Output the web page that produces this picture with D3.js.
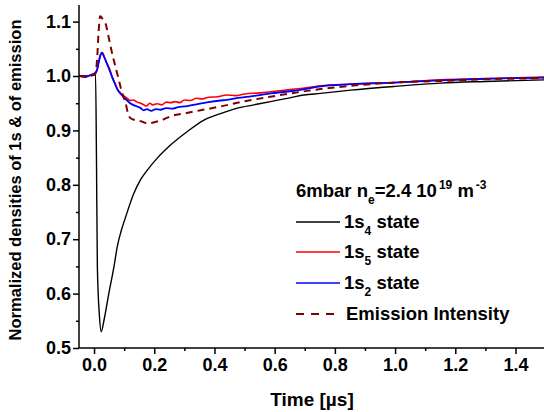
<!DOCTYPE html>
<html><head><meta charset="utf-8">
<script src="https://cdn.jsdelivr.net/npm/d3@7"></script>
<style>body{margin:0;background:#fff}svg{display:block}text{font-family:"Liberation Sans",Arial,sans-serif;font-weight:bold;fill:#000}</style>
</head><body><svg id="c" width="544" height="412"></svg>
<script>
// ---- data ----
const xTicks = [0.0, 0.2, 0.4, 0.6, 0.8, 1.0, 1.2, 1.4];
const yTicks = [0.5, 0.6, 0.7, 0.8, 0.9, 1.0, 1.1];
const t1s4 = [-0.05,-0.03,0.0,0.005,0.008,0.011,0.018,0.024,0.033,0.049,0.066,0.077,0.09,0.105,0.132,0.155,0.177,0.21,0.254,0.31,0.365,0.42,0.476,0.531,0.586,0.642,0.697,0.752,0.852,1.0,1.15,1.3,1.5];
const v1s4 = [1.0,1.0,1.002,1.003,0.85,0.65,0.558,0.53,0.551,0.60,0.649,0.686,0.715,0.741,0.784,0.81,0.827,0.849,0.873,0.898,0.919,0.931,0.941,0.947,0.953,0.959,0.965,0.968,0.974,0.981,0.987,0.99,0.993];
const t1s5 = [-0.05,-0.04,-0.03,-0.02,-0.01,0.0,0.005,0.01,0.015,0.02,0.027,0.032,0.038,0.044,0.05,0.06,0.07,0.077,0.09,0.11,0.12,0.13,0.143,0.155,0.165,0.175,0.185,0.195,0.21,0.225,0.24,0.255,0.27,0.285,0.30,0.32,0.34,0.36,0.38,0.41,0.44,0.47,0.50,0.55,0.586,0.65,0.70,0.752,0.85,1.0,1.15,1.3,1.5];
const v1s5 = [1.0,0.999,0.998,1.0,1.002,1.004,1.007,1.012,1.025,1.037,1.043,1.038,1.03,1.022,1.015,0.999,0.986,0.977,0.968,0.959,0.955,0.956,0.952,0.950,0.947,0.945,0.950,0.947,0.949,0.947,0.952,0.951,0.953,0.951,0.956,0.955,0.959,0.958,0.961,0.962,0.965,0.964,0.967,0.969,0.971,0.975,0.978,0.982,0.985,0.988,0.993,0.995,0.998];
const t1s2 = [-0.05,-0.04,-0.03,-0.02,-0.01,0.0,0.005,0.01,0.015,0.02,0.027,0.032,0.038,0.044,0.05,0.06,0.07,0.077,0.09,0.11,0.12,0.13,0.143,0.155,0.165,0.175,0.19,0.205,0.22,0.24,0.26,0.28,0.30,0.32,0.34,0.36,0.38,0.42,0.44,0.47,0.50,0.55,0.586,0.65,0.70,0.752,0.85,1.0,1.15,1.3,1.5];
const v1s2 = [1.0,1.0,0.998,1.0,1.002,1.004,1.006,1.011,1.024,1.036,1.043,1.037,1.029,1.021,1.013,0.998,0.985,0.976,0.966,0.955,0.950,0.947,0.944,0.941,0.937,0.939,0.936,0.939,0.938,0.941,0.940,0.943,0.944,0.946,0.948,0.950,0.952,0.955,0.956,0.959,0.961,0.965,0.968,0.972,0.976,0.981,0.985,0.988,0.992,0.995,0.997];
const tEm = [-0.05,-0.03,0.0,0.005,0.01,0.015,0.02,0.025,0.03,0.038,0.046,0.055,0.063,0.071,0.08,0.088,0.097,0.105,0.112,0.12,0.13,0.143,0.16,0.177,0.2,0.23,0.254,0.298,0.354,0.42,0.487,0.586,0.63,0.752,0.852,1.0,1.15,1.3,1.5];
const vEm = [1.0,0.999,1.002,1.005,1.03,1.08,1.11,1.108,1.103,1.097,1.078,1.054,1.035,1.017,0.998,0.98,0.963,0.95,0.933,0.923,0.92,0.919,0.916,0.913,0.915,0.920,0.926,0.931,0.937,0.944,0.952,0.962,0.966,0.976,0.982,0.988,0.991,0.994,0.996];

const svg = d3.select("#c");
const x = d3.scaleLinear().domain([-0.05, 1.5]).range([79, 545.6]);
const y = d3.scaleLinear().domain([0.5, 1.13]).range([348, 5.3]);

const series = [
  {t:t1s4, v:v1s4, color:"#000", w:1.4, dash:null},
  {t:t1s5, v:v1s5, color:"#ff0000", w:1.6, dash:null},
  {t:t1s2, v:v1s2, color:"#0000ff", w:1.8, dash:null},
  {t:tEm, v:vEm, color:"#800000", w:2, dash:"7,5"}
];
const line = d3.line().x(d=>x(d[0])).y(d=>y(d[1])).curve(d3.curveMonotoneX);
const plot = svg.append("g");
plot.selectAll("path.s").data(series).join("path")
  .attr("fill","none").attr("stroke",d=>d.color).attr("stroke-width",d=>d.w)
  .attr("stroke-dasharray",d=>d.dash)
  .attr("d",d=>line(d.t.map((tt,i)=>[tt,d.v[i]])));

// axes
const xMinor = d3.range(0.1, 1.5, 0.2);
const yMinor = d3.range(0.55, 1.13, 0.1);
const gx = svg.append("g").attr("transform","translate(0,348)");
gx.call(d3.axisBottom(x).tickValues(xTicks).tickSize(6).tickFormat(d3.format(".1f")));
gx.append("g").call(d3.axisBottom(x).tickValues(xMinor).tickSize(3).tickFormat(""));
const gy = svg.append("g").attr("transform","translate(79,0)");
gy.call(d3.axisLeft(y).tickValues(yTicks).tickSize(6).tickFormat(d3.format(".1f")));
gy.append("g").call(d3.axisLeft(y).tickValues(yMinor).tickSize(3).tickFormat(""));
svg.selectAll(".domain").attr("stroke","#000").attr("stroke-width",1.5);
svg.selectAll(".tick line").attr("stroke","#000").attr("stroke-width",1.5);
gx.selectAll("g").selectAll(".domain").remove();
gy.selectAll("g").selectAll(".domain").remove();
gx.select(".domain").attr("d","M79,0H545");
gy.select(".domain").attr("d","M0,348V5");
svg.selectAll(".tick text").attr("font-size",18).attr("font-weight","bold")
  .attr("font-family","'Liberation Sans',Arial,sans-serif").attr("fill","#000");
gx.selectAll(".tick text").attr("y",10);
gy.selectAll(".tick text").attr("x",-8);

// titles
svg.append("text").attr("x",312).attr("y",406).attr("text-anchor","middle").attr("font-size",19).text("Time [µs]");
svg.append("text").attr("transform","translate(21,180) rotate(-90)").attr("text-anchor","middle").attr("font-size",16.5)
  .text("Normalized densities of 1s & of emission");

// legend
const lg = svg.append("g");
const title = lg.append("text").attr("x",296).attr("y",197).attr("font-size",18.5);
title.append("tspan").text("6mbar n");
title.append("tspan").attr("font-size",12).attr("dy",7).text("e");
title.append("tspan").attr("dy",-7).text("=2.4 10");
title.append("tspan").attr("font-size",12).attr("dy",-8).attr("dx",2).text("19");
title.append("tspan").attr("dy",8).text(" m");
title.append("tspan").attr("font-size",12).attr("dy",-8).attr("dx",2).text("-3");
const legItems = [
  {sub:"4", label:" state", s:0, text:"1s"},
  {sub:"5", label:" state", s:1, text:"1s"},
  {sub:"2", label:" state", s:2, text:"1s"},
  {sub:null, label:"Emission Intensity", s:3, text:""}
];
const legY = [222, 252, 283, 314];
legItems.forEach((it,i)=>{
  const s = series[it.s];
  lg.append("line").attr("x1",296).attr("x2",340).attr("y1",legY[i]).attr("y2",legY[i])
    .attr("stroke",s.color).attr("stroke-width",s.dash?2:1.5).attr("stroke-dasharray",s.dash ? "8,7" : null);
  const tx = lg.append("text").attr("x",it.sub? 344 : 346).attr("y",legY[i]+6).attr("font-size",18.5);
  if (it.sub) {
    tx.append("tspan").text(it.text);
    tx.append("tspan").attr("font-size",12).attr("dy",7).text(it.sub);
    tx.append("tspan").attr("dy",-7).text(it.label);
  } else tx.text(it.label);
});
</script></body></html>
